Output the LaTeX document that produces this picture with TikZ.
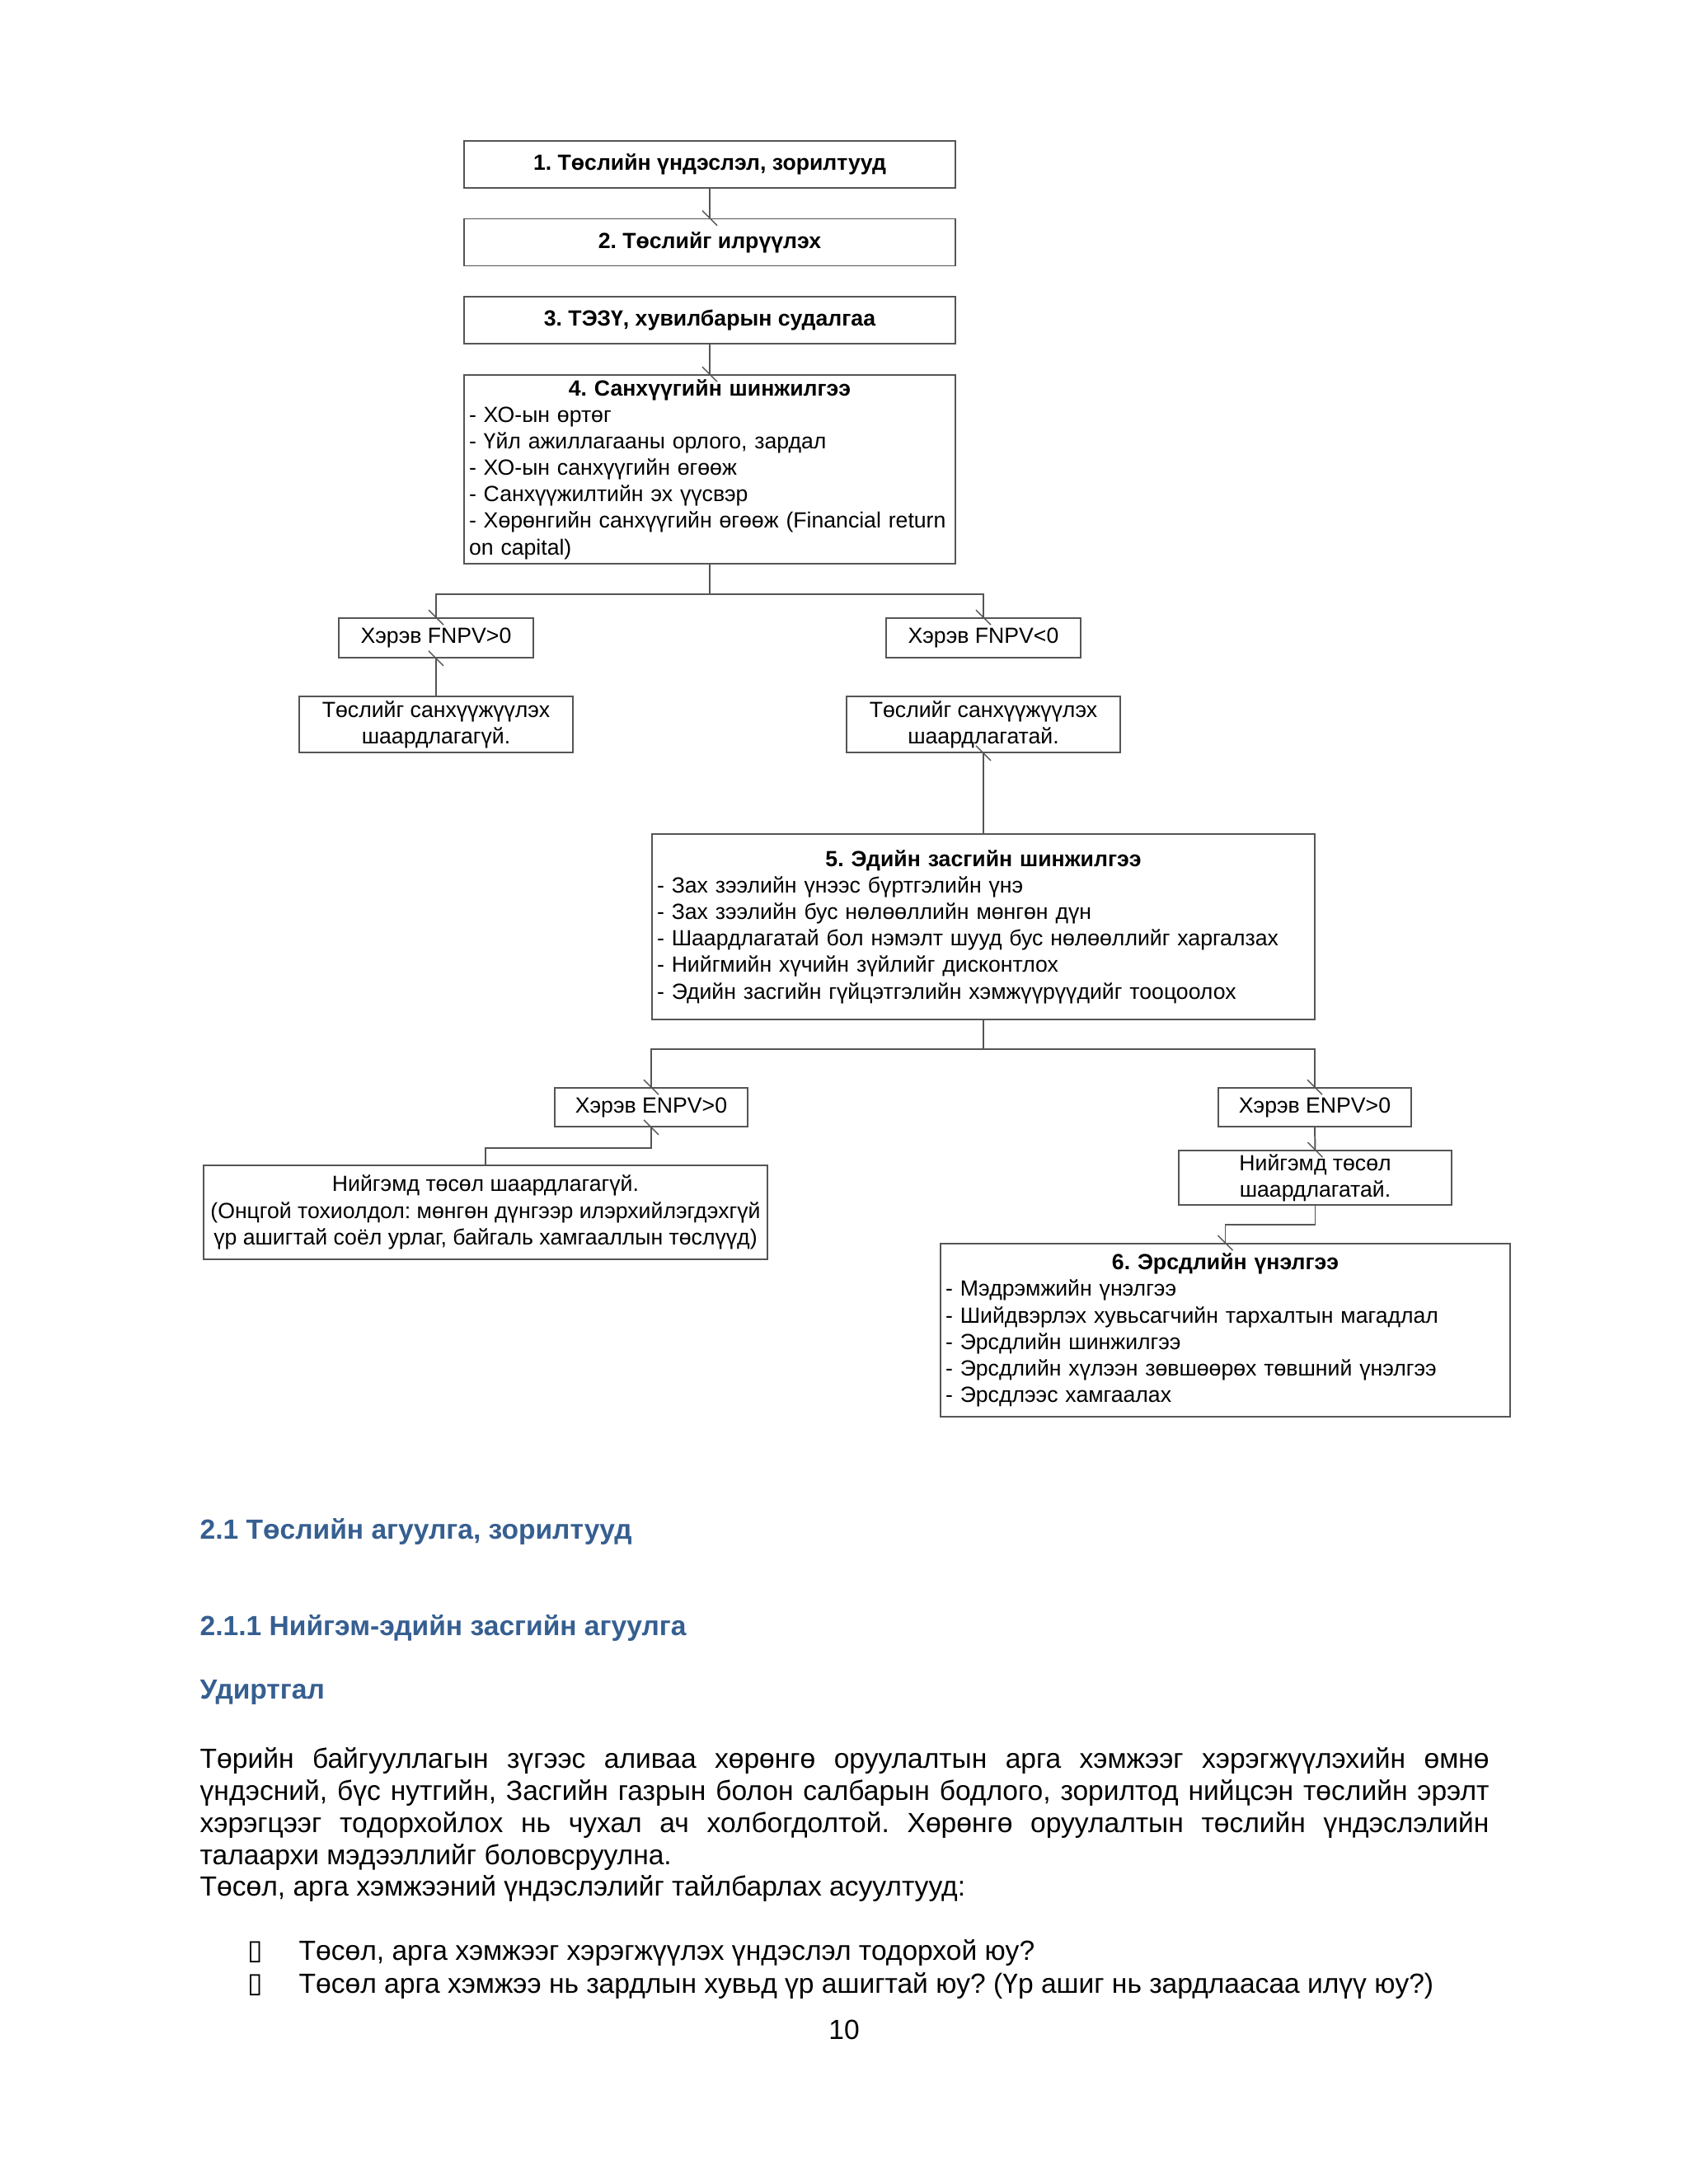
\documentclass[tikz,border=0pt]{standalone}
\usepackage{fontspec}
\setmainfont{Liberation Sans}
\newfontfamily\symfont{DejaVu Sans}
\usepackage{xcolor}
\frenchspacing

\definecolor{headblue}{RGB}{54,95,145}
\definecolor{boxgray}{RGB}{85,85,85}
\newcommand{\boxfont}{\fontsize{7.58}{9.15}\selectfont}
\newcommand{\bodyfont}{\fontsize{9.55}{11.05}\selectfont}

\tikzset{
  titlebox/.style={draw=boxgray, line width=0.55pt, minimum width=5.96cm, minimum height=0.57cm, inner sep=0pt, font=\boxfont\bfseries},
  condbox/.style={draw=boxgray, line width=0.55pt, inner sep=0pt, align=center, font=\boxfont},
  listbox/.style={draw=boxgray, line width=0.55pt, inner xsep=0.06cm, inner ysep=0pt, align=left, font=\boxfont},
  link/.style={draw=boxgray, line width=0.55pt},
  tickline/.style={draw=boxgray, line width=0.4pt},
  heading/.style={anchor=west, inner sep=0pt, text=headblue, font=\bodyfont\bfseries},
  bodytext/.style={anchor=west, inner sep=0pt, font=\bodyfont}
}

\begin{document}
\begin{tikzpicture}
  \useasboundingbox[fill=white] (0,0) rectangle (20.48,-26.5);

  % Steps 1-4
  \node[titlebox] (s1) at (8.61,-1.995) {1. Төслийн үндэслэл, зорилтууд};
  \node[titlebox] (s2) at (8.61,-2.94) {2. Төслийг илрүүлэх};
  \node[titlebox] (s3) at (8.61,-3.885) {3. ТЭЗҮ, хувилбарын судалгаа};
  \node[listbox, text width=5.84cm, minimum height=2.29cm] (s4) at (8.61,-5.695) {%
    \makebox[\hsize][c]{\bfseries 4. Санхүүгийн шинжилгээ}\\
    - ХО-ын өртөг\\
    - Үйл ажиллагааны орлого, зардал\\
    - ХО-ын санхүүгийн өгөөж\\
    - Санхүүжилтийн эх үүсвэр\\
    - Хөрөнгийн санхүүгийн өгөөж (Financial return\\
    on capital)};

  % FNPV branches
  \node[condbox, minimum width=2.36cm, minimum height=0.48cm] (fpos) at (5.29,-7.74) {Хэрэв FNPV>0};
  \node[condbox, minimum width=2.36cm, minimum height=0.48cm] (fneg) at (11.93,-7.74) {Хэрэв FNPV<0};
  \node[condbox, minimum width=3.32cm, minimum height=0.68cm] (fnone) at (5.29,-8.79) {Төслийг санхүүжүүлэх\\шаардлагагүй.};
  \node[condbox, minimum width=3.32cm, minimum height=0.68cm] (fneed) at (11.93,-8.79) {Төслийг санхүүжүүлэх\\шаардлагатай.};

  % Step 5
  \node[listbox, text width=7.92cm, minimum height=2.25cm] (s5) at (11.93,-11.245) {%
    \makebox[\hsize][c]{\bfseries 5. Эдийн засгийн шинжилгээ}\\
    - Зах зээлийн үнээс бүртгэлийн үнэ\\
    - Зах зээлийн бус нөлөөллийн мөнгөн дүн\\
    - Шаардлагатай бол нэмэлт шууд бус нөлөөллийг харгалзах\\
    - Нийгмийн хүчийн зүйлийг дисконтлох\\
    - Эдийн засгийн гүйцэтгэлийн хэмжүүрүүдийг тооцоолох};

  % ENPV branches
  \node[condbox, minimum width=2.34cm, minimum height=0.47cm] (epl) at (7.90,-13.435) {Хэрэв ENPV>0};
  \node[condbox, minimum width=2.34cm, minimum height=0.47cm] (epr) at (15.95,-13.435) {Хэрэв ENPV>0};
  \node[condbox, minimum width=6.84cm, minimum height=1.14cm] (snone) at (5.89,-14.71) {Нийгэмд төсөл шаардлагагүй.\\(Онцгой тохиолдол: мөнгөн дүнгээр илэрхийлэгдэхгүй\\үр ашигтай соёл урлаг, байгаль хамгааллын төслүүд)};
  \node[condbox, minimum width=3.31cm, minimum height=0.66cm] (sneed) at (15.955,-14.29) {Нийгэмд төсөл\\шаардлагатай.};

  % Step 6
  \node[listbox, text width=6.79cm, minimum height=2.10cm] (s6) at (14.865,-16.14) {%
    \makebox[\hsize][c]{\bfseries 6. Эрсдлийн үнэлгээ}\\
    - Мэдрэмжийн үнэлгээ\\
    - Шийдвэрлэх хувьсагчийн тархалтын магадлал\\
    - Эрсдлийн шинжилгээ\\
    - Эрсдлийн хүлээн зөвшөөрөх төвшний үнэлгээ\\
    - Эрсдлээс хамгаалах};

  % Connectors
  \draw[link] (s1.south) -- (s2.north);
  \draw[link] (s3.south) -- (s4.north);
  \draw[link] (s4.south) -- ++(0,-0.36) coordinate (fsplit) -| (fpos.north);
  \draw[link] (fsplit) -| (fneg.north);
  \draw[link] (fpos.south) -- (fnone.north);
  \draw[link] (fneed.south) -- (s5.north);
  \draw[link] (s5.south) -- ++(0,-0.35) coordinate (esplit) -| (epl.north);
  \draw[link] (esplit) -| (epr.north);
  \draw[link] (epl.south) -- ++(0,-0.25) -| (snone.north);
  \draw[link] (epr.south) -- (sneed.north);
  \draw[link] (sneed.south) -- ++(0,-0.23) -| (s6.north);

  % Little slashes where the connectors meet the boxes
  \foreach \p in {s2.north, s4.north, fpos.north, fpos.south, fneg.north, fneed.south,
                  epl.north, epl.south, epr.north, sneed.north, s6.north}
    \draw[tickline] (\p) ++(-0.09,0.09) -- ++(0.18,-0.18);

  % Text of the page
  \node[heading] (h1) at (2.42,-18.58) {2.1 Төслийн агуулга, зорилтууд};
  \node[heading] (h2) at (2.42,-19.75) {2.1.1 Нийгэм-эдийн засгийн агуулга};
  \node[heading] (h3) at (2.42,-20.53) {Удиртгал};
  \node[anchor=north west, inner sep=0pt, text width=15.64cm, align=justify, font=\bodyfont] (para) at (2.42,-21.20) {%
    Төрийн байгууллагын зүгээс аливаа хөрөнгө оруулалтын арга хэмжээг хэрэгжүүлэхийн өмнө\linebreak
    үндэсний, бүс нутгийн, Засгийн газрын болон салбарын бодлого, зорилтод нийцсэн төслийн эрэлт\linebreak
    хэрэгцээг тодорхойлох нь чухал ач холбогдолтой. Хөрөнгө оруулалтын төслийн үндэслэлийн\linebreak
    талаархи мэдээллийг боловсруулна.\\
    Төсөл, арга хэмжээний үндэслэлийг тайлбарлах асуултууд:};
  \node[bodytext] (b1) at (3.00,-23.69) {{\symfont ▯}};
  \node[bodytext] (q1) at (3.62,-23.69) {Төсөл, арга хэмжээг хэрэгжүүлэх үндэслэл тодорхой юу?};
  \node[bodytext] (b2) at (3.00,-24.09) {{\symfont ▯}};
  \node[bodytext] (q2) at (3.62,-24.09) {Төсөл арга хэмжээ нь зардлын хувьд үр ашигтай юу? (Үр ашиг нь зардлаасаа илүү юу?)};
  \node[bodytext, anchor=center] (pg) at (10.24,-24.63) {10};
\end{tikzpicture}
\end{document}
